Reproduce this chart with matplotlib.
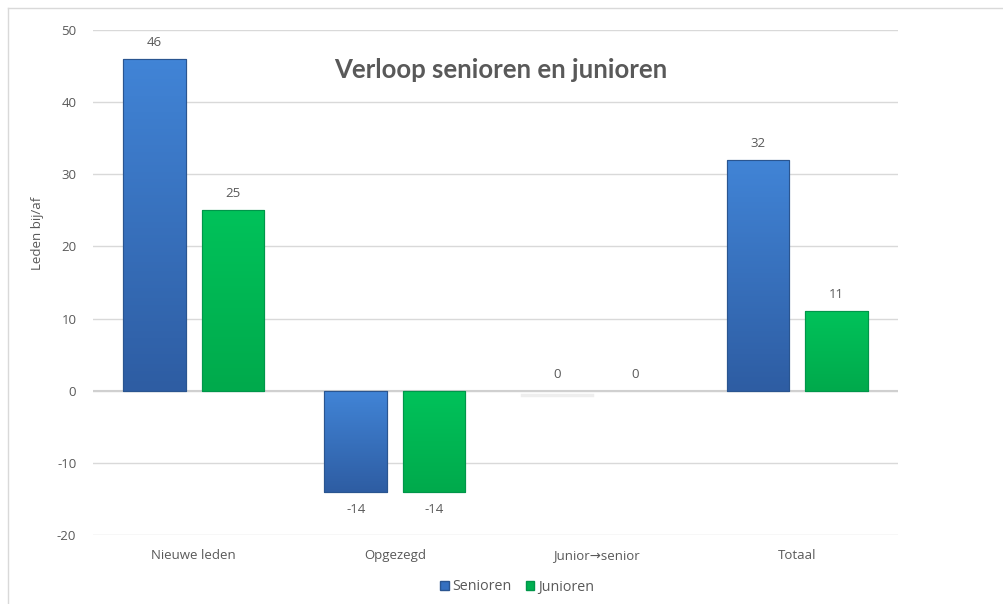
import matplotlib
matplotlib.use("Agg")
import matplotlib.pyplot as plt
import numpy as np
from matplotlib.colors import LinearSegmentedColormap
from matplotlib.lines import Line2D
from matplotlib.ticker import FuncFormatter

categories = ["Nieuwe leden", "Opgezegd", "Junior\u2192senior", "Totaal"]
senioren = [46, -14, 0, 32]
junioren = [25, -14, 0, 11]
series_names = ["Senioren", "Junioren"]
yticks = [-20, -10, 0, 10, 20, 30, 40, 50]

plt.rcParams['font.family'] = ['Open Sans', 'DejaVu Sans']
txt = '#595959'
fs = 9.5

fig = plt.figure(figsize=(10.04, 6.04), dpi=100)
ax = fig.add_axes([93/1004, 69/604, 805/1004, 505/604])

# outer frame (top and left edges visible)
fig.add_artist(Line2D([8/1004, 8/1004], [0, 1-8/604], transform=fig.transFigure, color='#d9d9d9', lw=1))
fig.add_artist(Line2D([8/1004, 1], [1-8/604, 1-8/604], transform=fig.transFigure, color='#d9d9d9', lw=1))

x = np.arange(len(categories))
w = 0.31
off = 0.195

blue_cmap = LinearSegmentedColormap.from_list('b', ['#4184d6', '#2e5da3'])
green_cmap = LinearSegmentedColormap.from_list('g', ['#00c25a', '#00aa4c'])

def draw(vals, pos, cmap, edge, name):
    lws = [0.8 if v != 0 else 0 for v in vals]
    bars = ax.bar(pos, vals, width=w, color=cmap(0.5), edgecolor=edge, linewidth=lws, zorder=3, label=name)
    for b, v in zip(bars, vals):
        if v == 0:
            continue
        x0, y0 = b.get_x(), b.get_y()
        bw, bh = b.get_width(), b.get_height()
        grad = np.linspace(0, 1, 100).reshape(-1, 1)
        ylo, yhi = min(y0, y0 + bh), max(y0, y0 + bh)
        im = ax.imshow(grad, cmap=cmap, aspect='auto', extent=(x0, x0 + bw, ylo, yhi),
                       origin='upper', zorder=3.5)
        im.set_clip_path(b)
        ax.bar(b.get_x() + bw / 2, v, width=bw, fill=False, edgecolor=edge, lw=0.8, zorder=4)
    for b, v in zip(bars, vals):
        cx = b.get_x() + b.get_width() / 2
        dy = 12 if v >= 0 else -13
        ax.annotate(str(v), (cx, v), xytext=(0, dy), textcoords='offset points',
                    ha='center', va='center', color=txt, fontsize=fs)
    return bars

draw(senioren, x - off, blue_cmap, '#2a5590', series_names[0])
draw(junioren, x + off, green_cmap, '#00964a', series_names[1])

# faint shadow for zero values
ax.plot([2 - off - w / 2 - 0.02, 2 - off + w / 2 + 0.02], [-0.6, -0.6], color='#eeeeee', lw=2.5, zorder=2)

ax.set_xlim(-0.5, 3.5)
ax.set_ylim(-20, 50)
ax.set_yticks(yticks)
ax.yaxis.set_major_formatter(FuncFormatter(lambda v, p: f"{int(v)}"))
ax.set_xticks(x)
ax.set_xticklabels(categories)
ax.tick_params(axis='both', length=0, colors=txt, labelsize=fs)
ax.tick_params(axis='y', pad=12)
ax.tick_params(axis='x', pad=10)
ax.grid(axis='y', color='#d9d9d9', lw=1, zorder=0)
ax.axhline(0, color='#d0d0d0', lw=1.5, zorder=2)
for s in ax.spines.values():
    s.set_visible(False)

fig.text(37/1004, 1 - 233/604, 'Leden bij/af', rotation=90, ha='center', va='center', color=txt, fontsize=fs)
fig.text(501/1004, 1 - 70/604, 'Verloop senioren en junioren', ha='center', va='center',
         color=txt, fontsize=18.5, fontweight='bold', family=['Lato', 'DejaVu Sans'])

leg = fig.legend(handles=[plt.Rectangle((0, 0), 1, 1, fc='#3570c0', ec='#2a5590'),
                          plt.Rectangle((0, 0), 1, 1, fc='#00b050', ec='#00964a')],
                 labels=series_names, loc='center', bbox_to_anchor=(517/1004, 1 - 587/604),
                 ncol=2, frameon=False, fontsize=10.3, handlelength=0.6, handleheight=0.6,
                 handletextpad=0.25, columnspacing=1.0, labelcolor=txt)

fig.savefig('out.png', dpi=100, facecolor='white')
